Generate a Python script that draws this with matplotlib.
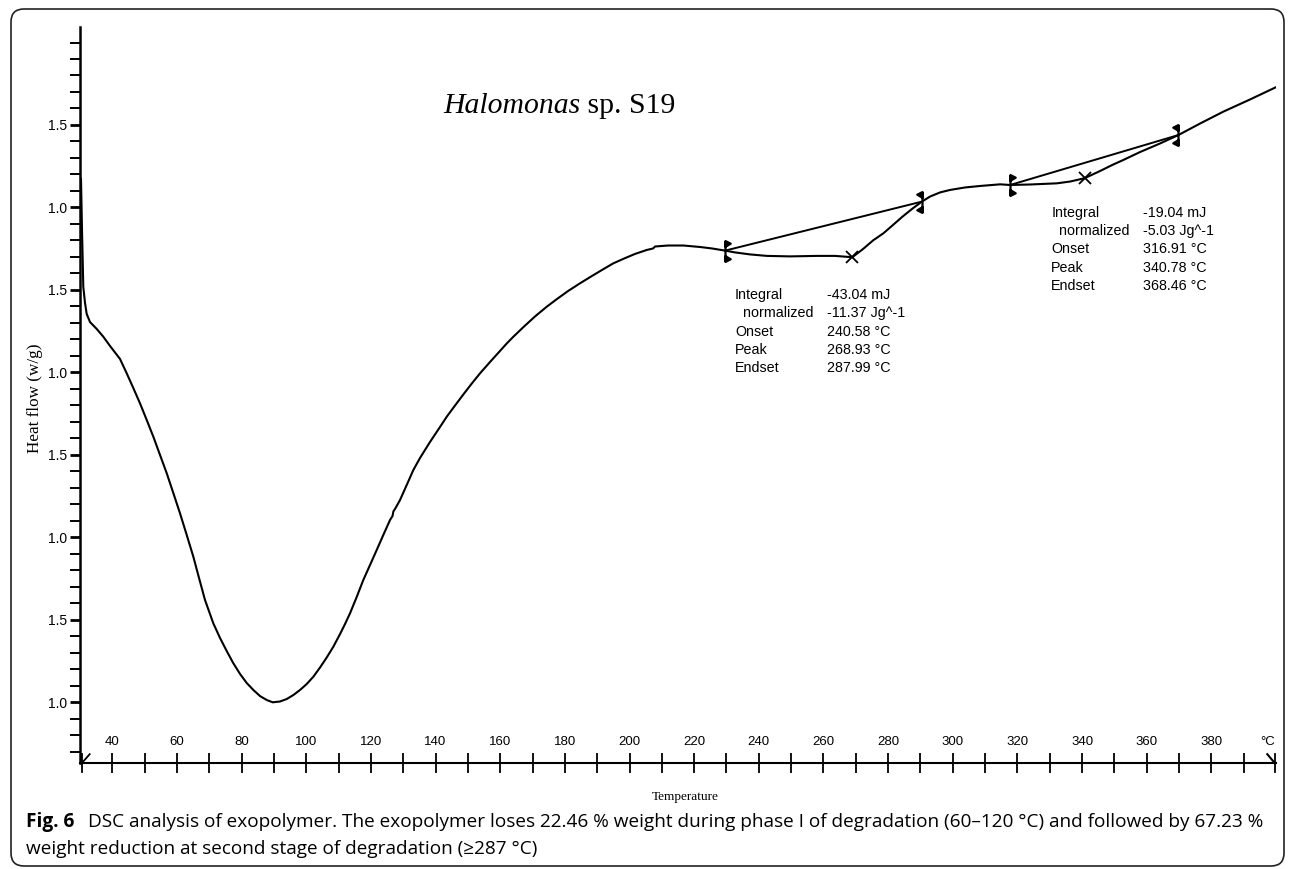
import numpy as np
import matplotlib
matplotlib.use("Agg")
import matplotlib.pyplot as plt
from matplotlib.path import Path
from matplotlib.patches import FancyBboxPatch

# DSC trace (temperature in degC, heat flow in axis units)
temperature = [30.31, 30.62, 31.02, 31.55, 32.07, 33.09, 35.17, 37.21, 39.28, 42.38,
               44.45, 46.49, 48.56, 50.64, 52.68, 54.75, 56.83, 58.87, 60.94, 63.01,
               65.06, 66.82, 68.68, 71.24, 73.32, 75.39, 77.43, 79.51, 81.58, 83.62,
               85.69, 87.77, 89.62, 91.88, 93.96, 95.99, 98.07, 100.14, 102.18, 104.26,
               106.33, 108.37, 110.45, 111.99, 113.54, 115.61, 117.65, 119.73, 121.80, 123.84,
               125.92, 126.69, 126.94, 127.62, 129.01, 131.08, 133.13, 135.20, 138.29, 141.39,
               143.46, 146.03, 148.60, 151.20, 153.76, 156.86, 159.95, 162.02, 164.07, 167.38,
               170.78, 174.40, 177.59, 180.99, 184.70, 188.11, 191.51, 195.00, 198.32, 201.72,
               205.34, 207.29, 207.91, 211.93, 216.66, 221.83, 225.54, 229.57, 232.66, 237.30,
               242.47, 249.68, 257.94, 263.57, 268.93, 272.26, 275.35, 278.54, 281.54, 284.33,
               287.42, 290.42, 292.99, 296.09, 299.18, 303.83, 308.47, 314.65, 317.75, 323.94,
               332.20, 336.32, 340.78, 345.60, 349.31, 352.80, 357.97, 364.16, 369.82, 376.54,
               383.74, 392.01, 400.0]
heat_flow = [1.173, 0.863, 0.518, 0.421, 0.354, 0.305, 0.263, 0.216, 0.160, 0.081,
             -0.006, -0.095, -0.188, -0.289, -0.390, -0.501, -0.612, -0.732, -0.855, -0.986,
             -1.118, -1.247, -1.381, -1.522, -1.611, -1.690, -1.764, -1.829, -1.884, -1.926,
             -1.963, -1.987, -2.001, -1.996, -1.981, -1.957, -1.926, -1.890, -1.846, -1.790,
             -1.729, -1.664, -1.587, -1.526, -1.461, -1.362, -1.259, -1.168, -1.077, -0.986,
             -0.895, -0.871, -0.844, -0.823, -0.774, -0.683, -0.592, -0.519, -0.422, -0.331,
             -0.269, -0.201, -0.134, -0.068, -0.006, 0.063, 0.130, 0.175, 0.216, 0.278,
             0.339, 0.398, 0.445, 0.493, 0.540, 0.581, 0.621, 0.661, 0.690, 0.718,
             0.742, 0.751, 0.763, 0.769, 0.769, 0.760, 0.751, 0.738, 0.727, 0.715,
             0.706, 0.703, 0.706, 0.706, 0.698, 0.748, 0.800, 0.843, 0.894, 0.942,
             0.991, 1.035, 1.066, 1.091, 1.106, 1.121, 1.130, 1.140, 1.136, 1.139,
             1.146, 1.157, 1.177, 1.221, 1.257, 1.288, 1.336, 1.388, 1.439, 1.509,
             1.581, 1.655, 1.729]

# integration limits (left, right) and peaks of the two events
limit_left_T = [229.57, 317.75]
limit_left_hf = [0.738, 1.136]
limit_right_T = [290.42, 369.82]
limit_right_hf = [1.035, 1.439]
peak_T = [268.93, 340.78]
peak_hf = [0.698, 1.177]

results = [
    [("Integral", "-43.04 mJ"), ("  normalized", "-11.37 Jg^-1"), ("Onset", "240.58 °C"),
     ("Peak", "268.93 °C"), ("Endset", "287.99 °C")],
    [("Integral", "-19.04 mJ"), ("  normalized", "-5.03 Jg^-1"), ("Onset", "316.91 °C"),
     ("Peak", "340.78 °C"), ("Endset", "368.46 °C")],
]
result_pos = [(232.66, 0.469), (330.44, 0.968)]

x_ticks = list(range(40, 400, 10))
x_labels = list(range(40, 400, 20))
y_ticks = [1.5, 1.0, 0.5, 0.0, -0.5, -1.0, -1.5, -2.0]
y_ticklabels = ["1.5", "1.0", "1.5", "1.0", "1.5", "1.0", "1.5", "1.0"]

W, H = 1295, 869
fig = plt.figure(figsize=(W / 100, H / 100), dpi=100)
ax = fig.add_axes([80 / W, 1 - 763 / H, 1196 / W, 736 / H])
ax.set_xlim(30, 400)
ax.set_ylim(-2.369, 2.094)

ax.plot(temperature, heat_flow, color="black", lw=1.5, solid_joinstyle="round")

# baselines of the integrated peaks
for i in range(2):
    ax.plot([limit_left_T[i], limit_right_T[i]], [limit_left_hf[i], limit_right_hf[i]],
            color="black", lw=1.4)

def limit_marker(side):
    s = side
    verts = [(0, -1), (0, 1),
             (0, 1), (0.5 * s, 0.75), (0, 0.45), (0, 1),
             (0, -1), (0.5 * s, -0.75), (0, -0.45), (0, -1)]
    codes = [Path.MOVETO, Path.LINETO,
             Path.MOVETO, Path.LINETO, Path.LINETO, Path.CLOSEPOLY,
             Path.MOVETO, Path.LINETO, Path.LINETO, Path.CLOSEPOLY]
    return Path(verts, codes)

ax.plot(limit_left_T, limit_left_hf, ls="none", marker=limit_marker(1), ms=15,
        mfc="black", mec="black", mew=1.6)
ax.plot(limit_right_T, limit_right_hf, ls="none", marker=limit_marker(-1), ms=15,
        mfc="black", mec="black", mew=1.6)
ax.plot(peak_T, peak_hf, ls="none", marker="x", ms=8, mec="black", mew=1.3)

for rows, (tx, ty) in zip(results, result_pos):
    for k, (name, val) in enumerate(rows):
        yy = ty - k * 0.111
        ax.text(tx, yy, name, fontsize=10.3, family="Liberation Sans", va="center")
        ax.text(tx + 28.4, yy, val, fontsize=10.3, family="Liberation Sans", va="center")

# spines / axes
for side in ["top", "right"]:
    ax.spines[side].set_visible(False)
ax.spines["left"].set_linewidth(1.8)
ax.spines["bottom"].set_linewidth(1.5)

ax.set_yticks(y_ticks)
ax.set_yticklabels(y_ticklabels, family="Liberation Sans", fontsize=10)
ax.set_yticks(np.round(np.arange(-2.3, 2.05, 0.1), 2), minor=True)
ax.tick_params(axis="y", which="major", direction="out", length=7.5, width=2.0, pad=1.5)
ax.tick_params(axis="y", which="minor", direction="out", length=7.5, width=1.4)

ax.set_xticks(x_ticks)
ax.set_xticklabels([str(t) if t in x_labels else "" for t in x_ticks],
                   family="Liberation Sans", fontsize=9.5)
ax.tick_params(axis="x", which="major", direction="inout", length=15, width=1.3,
               pad=-27)
ax.annotate("°C", xy=(397.3, 0), xycoords=("data", "axes fraction"),
            xytext=(0, 21), textcoords="offset pixels",
            fontsize=9.5, family="Liberation Sans", ha="center", va="center")

# axis break symbols at both ends of the temperature axis
bt = ax.get_xaxis_transform()
ax.plot([30.6, 30.6], [-0.012, 0.012], transform=bt, color="black", lw=1.3, clip_on=False)
ax.plot([30.6, 33.0], [0.0, 0.012], transform=bt, color="black", lw=1.3, clip_on=False)
ax.plot([399.6, 399.6], [-0.012, 0.012], transform=bt, color="black", lw=1.3, clip_on=False)
ax.plot([397.3, 399.6], [0.012, 0.0], transform=bt, color="black", lw=1.5, clip_on=False)

ax.set_ylabel("Heat flow (w/g)", family="Liberation Serif", fontsize=12.3, va="center")
ax.yaxis.set_label_coords((35 - 80) / 1196, (763 - 398) / 736)
fig.text(685 / W, 1 - 797 / H, "Temperature", family="Liberation Serif", fontsize=9.5,
         ha="center", va="center")

r = fig.canvas.get_renderer()

# title
t1 = fig.text(443 / W, 1 - 106 / H, "Halomonas", family="Liberation Serif",
              style="italic", fontsize=21.4, va="center")
bb = t1.get_window_extent(r)
fig.text(bb.x1 / W, 1 - 106 / H, " sp. S19", family="Liberation Serif", fontsize=21.4,
         va="center")

# caption, sized so the second line spans its measured width
line2 = fig.text(26 / W, 1 - 849 / H,
                 "weight reduction at second stage of degradation (≥287 °C)",
                 family=["Open Sans", "DejaVu Sans"], fontsize=11.5, va="center")
fs = 11.5 * 514 / line2.get_window_extent(r).width
line2.set_fontsize(fs)
c1 = fig.text(26 / W, 1 - 822 / H, "Fig. 6", family="Open Sans", weight="bold",
              fontsize=fs, va="center")
fig.text(88 / W, 1 - 822 / H,
         "DSC analysis of exopolymer. The exopolymer loses 22.46 % weight during phase I of "
         "degradation (60–120 °C) and followed by 67.23 %",
         family="Open Sans", fontsize=fs, va="center")

# rounded frame around the figure (inches)
frame = FancyBboxPatch((0.11, 0.03), 12.73, 8.57,
                       boxstyle="round,pad=0,rounding_size=0.13",
                       transform=fig.dpi_scale_trans, fill=False, ec="#222222", lw=1.2)
fig.patches.append(frame)

fig.savefig("out.png", dpi=100)
